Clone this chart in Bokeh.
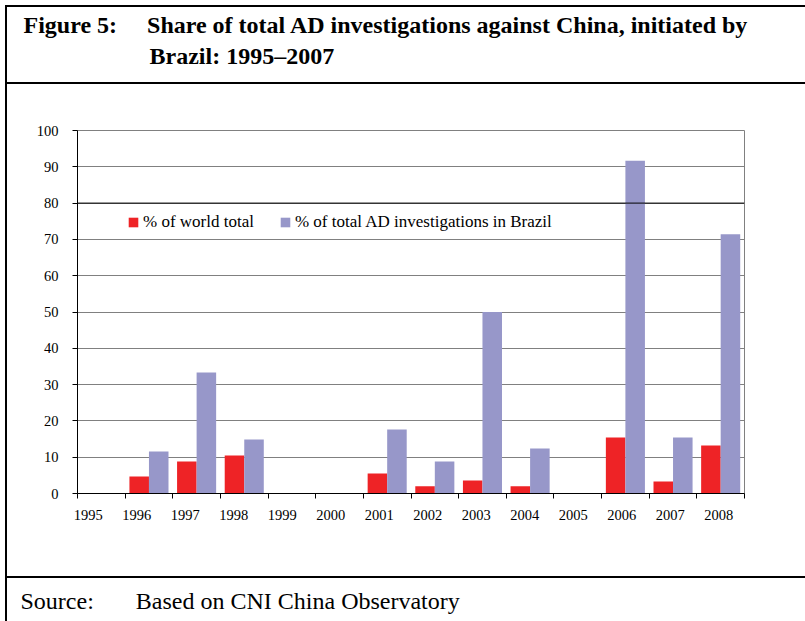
from bokeh.plotting import figure
from bokeh.models import (Range1d, FixedTicker, LinearAxis, Span, Legend, Title,
                          LegendItem, ColumnDataSource)
from bokeh.transform import dodge
from bokeh.embed import file_html
from bokeh.resources import INLINE

# ---------------- data ----------------
years = [1995, 1996, 1997, 1998, 1999, 2000, 2001, 2002, 2003, 2004, 2005, 2006, 2007, 2008]
year_labels = [str(y) for y in years]
world_total = [0, 4.7, 8.8, 10.5, 0, 0, 5.5, 2.0, 3.6, 2.0, 0, 15.4, 3.3, 13.2]
brazil_total = [0, 11.6, 33.3, 14.9, 0, 0, 17.6, 8.8, 50.0, 12.4, 0, 91.7, 15.4, 71.4]
y_ticks = [0, 10, 20, 30, 40, 50, 60, 70, 80, 90, 100]
series_names = ["% of world total", "% of total AD investigations in Brazil"]
title_lead = "Figure 5:"
title_line1 = "Share of total AD investigations against China, initiated by"
title_line2 = "Brazil: 1995\u20132007"
source_lead = "Source:"
source_text = "Based on CNI China Observatory"

FONT = "Liberation Serif"
RED = "#EE2326"
BLUE = "#9797C9"

W, H = 805, 621
FL, FR, FT, FB = 77, 744, 130, 493   # frame edges on the canvas

# box lines of the figure panel, drawn as CSS backgrounds behind a transparent border area
box_css = {
    "background-image": ", ".join(["linear-gradient(#000, #000)"] * 4),
    "background-size": "2px 620px, 800px 2px, 800px 2px, 800px 2px",
    "background-position": "5px 5px, 5px 5px, 5px 82px, 5px 576px",
    "background-repeat": "no-repeat",
}

p = figure(width=W, height=H,
           x_range=Range1d(years[0] - 0.5, years[-1] + 0.5),
           y_range=Range1d(y_ticks[0], y_ticks[-1]),
           min_border_left=FL, min_border_right=W - FR,
           min_border_top=FT, min_border_bottom=H - FB,
           toolbar_location=None, output_backend="svg", styles=box_css)
p.border_fill_color = None
p.background_fill_color = "white"
p.extra_x_ranges = {"labels": Range1d(1994.78, 2008.53)}

src = ColumnDataSource(dict(year=years, world=world_total, brazil=brazil_total))
r1 = p.vbar(x=dodge("year", -0.205), top="world", width=0.41, source=src,
            fill_color=RED, line_color=None)
r2 = p.vbar(x=dodge("year", 0.205), top="brazil", width=0.41, source=src,
            fill_color=BLUE, line_color=None)

p.xgrid.visible = False
p.ygrid.ticker = FixedTicker(ticks=y_ticks)
p.ygrid.grid_line_color = "#808080"
p.ygrid.grid_line_width = 1
p.add_layout(Span(location=y_ticks[8], dimension="width", line_color="black", line_width=1))
p.outline_line_color = "#808080"
p.outline_line_width = 1

# category boundary ticks (as minor ticks, no labels)
xa = p.xaxis[0]
xa.ticker = FixedTicker(ticks=[], minor_ticks=[y - 0.5 for y in years] + [years[-1] + 0.5])
xa.major_label_standoff = 0
xa.major_tick_out = 5
xa.major_tick_in = 0
xa.minor_tick_out = 5
xa.minor_tick_in = 0
xa.minor_tick_line_color = "black"
xa.axis_line_color = "black"
xa.major_tick_line_color = None

# year labels
xl = LinearAxis(x_range_name="labels", ticker=FixedTicker(ticks=years),
                major_label_overrides={y: l for y, l in zip(years, year_labels)},
                axis_line_color=None, major_tick_line_color=None, minor_tick_line_color=None,
                major_tick_out=0, major_tick_in=0,
                major_label_standoff=11, major_label_text_font=FONT,
                major_label_text_font_size="14.5px", major_label_text_color="black")
p.add_layout(xl, "below")

ya = p.yaxis[0]
ya.ticker = FixedTicker(ticks=y_ticks)
ya.major_tick_out = 5
ya.major_tick_in = 0
ya.minor_tick_line_color = None
ya.axis_line_color = "black"
ya.major_tick_line_color = "black"
ya.major_label_standoff = 14
ya.major_label_text_font = FONT
ya.major_label_text_font_size = "14.5px"
ya.major_label_text_color = "black"

legend = Legend(items=[LegendItem(label=series_names[0], renderers=[r1]),
                       LegendItem(label=series_names[1], renderers=[r2])],
                orientation="horizontal", location=(50, 261),
                label_text_font=FONT, label_text_font_size="17px", label_text_color="black",
                glyph_width=12, glyph_height=12, label_standoff=4, spacing=25,
                padding=0, margin=0, border_line_color=None, background_fill_alpha=0)
p.add_layout(legend, "center")

# ---------------- titles ----------------
NB = "\u00a0"
common = dict(text_font=FONT, text_font_size="24px", text_color="black", align="left")

# spacer between frame and heading
p.add_layout(Title(text=NB, text_font_size="1px", standoff=58, align="left"), "above")
p.title.text = title_lead + NB * 5 + title_line1 + "\n" + NB * 21 + title_line2
p.title.offset = 23 - FL
p.title.standoff = 0
p.title.text_font = FONT
p.title.text_font_size = "24px"
p.title.text_font_style = "bold"
p.title.text_color = "black"
p.title.text_line_height = 1.23
p.title.align = "left"

# spacer between axis labels and source note
p.add_layout(Title(text=NB, text_font_size="1px", standoff=60, align="left"), "below")
p.add_layout(Title(text=source_lead + NB * 7 + source_text, offset=20 - FL, standoff=0,
                   text_font_style="normal", **common), "below")

open("out.html", "w").write(file_html(p, INLINE))
